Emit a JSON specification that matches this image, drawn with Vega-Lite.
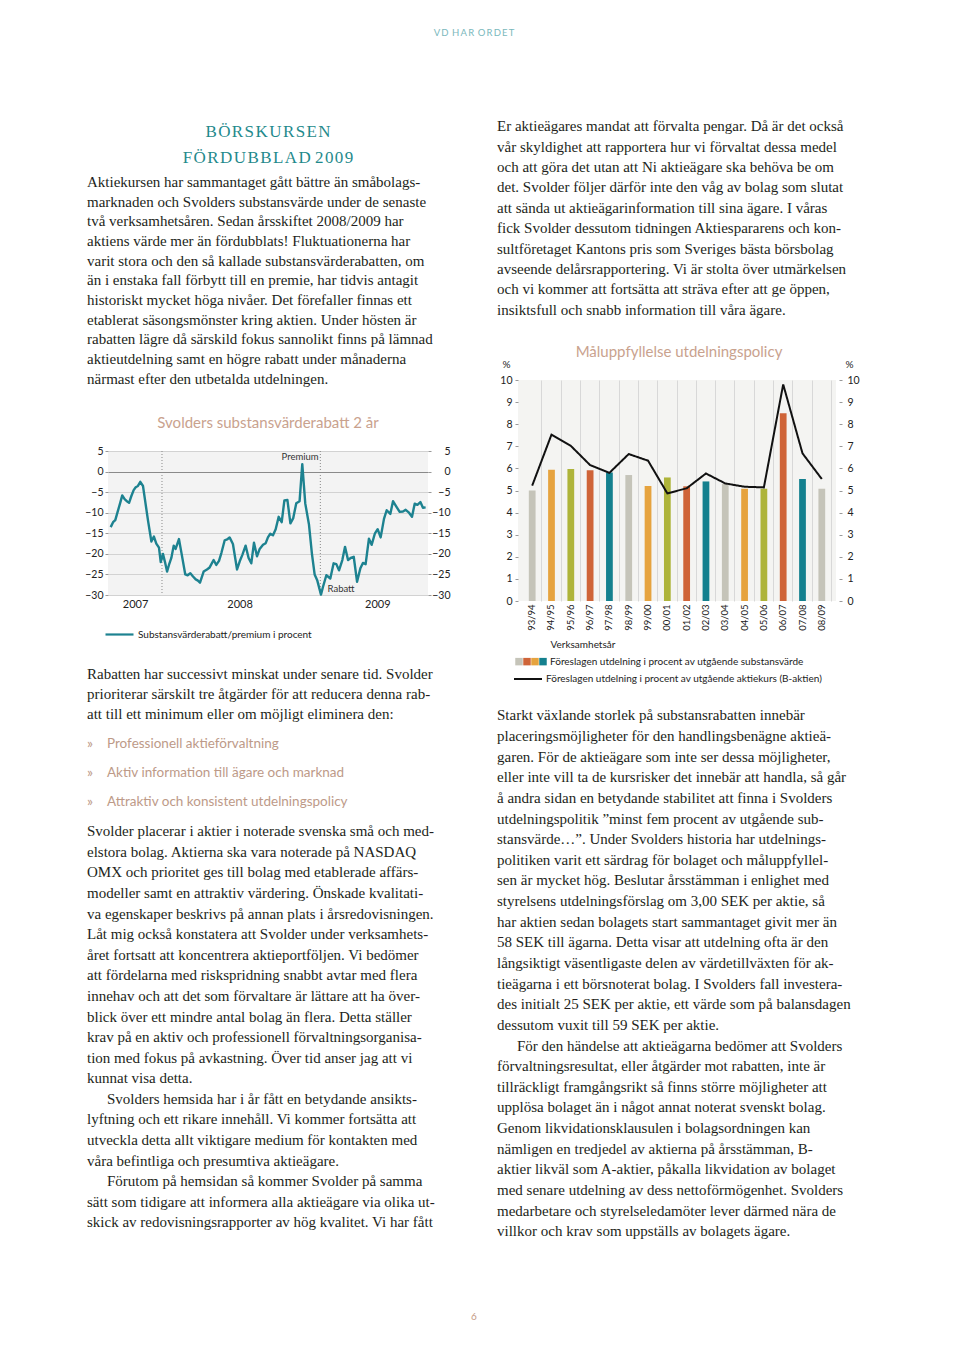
{
"$schema": "https://vega.github.io/schema/vega-lite/v6.json",
"background": "white",
"padding": {"left": 84, "top": 0, "right": 102, "bottom": 18},
"config": {"view": {"stroke": null}, "font": "Lato"},
"bounds": "flush",
"spacing": 0,
"vconcat": [
{"width": 774, "height": 66, "data": {"values": [{"t": "V\u2009D \u2009H\u2009A\u2009R \u2009O\u2009R\u2009D\u2009E\u2009T"}]},
 "mark": {"type": "text", "font": "Lato", "fontSize": 9.5, "color": "#7ab8bc", "align": "center", "baseline": "middle"},
 "encoding": {"text": {"field": "t", "type": "nominal"}}},
{"hconcat": [
 {"vconcat": [
  {"width": 1, "height": 52.5, "data": {"values": []}, "mark": {"type": "text"}, "encoding": {}},
  {"width": 362, "height": 52.6,
   "data": {"values": [{"i": 0, "t": "B\u200aÖ\u200aR\u200aS\u200aK\u200aU\u200aR\u200aS\u200aE\u200aN"}, {"i": 1, "t": "F\u200aÖ\u200aR\u200aD\u200aU\u200aB\u200aB\u200aL\u200aA\u200aD 2\u200a0\u200a0\u200a9"}]},
   "mark": {"type": "text", "align": "center", "baseline": "middle", "font": "Liberation Serif", "fontSize": 17, "color": "#1f8a8c"},
   "encoding": {"y": {"field": "i", "type": "ordinal", "scale": {"type": "point", "padding": 0.5}, "axis": null}, "text": {"field": "t", "type": "nominal"}}},
  {"width": 362, "height": 216.7,
   "data": {"values": [
    {"i": 0, "t": "Aktiekursen har sammantaget gått bättre än småbolags-"},
    {"i": 1, "t": "marknaden och Svolders substansvärde under de senaste"},
    {"i": 2, "t": "två verksamhetsåren. Sedan årsskiftet 2008/2009 har"},
    {"i": 3, "t": "aktiens värde mer än fördubblats! Fluktuationerna har"},
    {"i": 4, "t": "varit stora och den så kallade substansvärderabatten, om"},
    {"i": 5, "t": "än i enstaka fall förbytt till en premie, har tidvis antagit"},
    {"i": 6, "t": "historiskt mycket höga nivåer. Det förefaller finnas ett"},
    {"i": 7, "t": "etablerat säsongsmönster kring aktien. Under hösten är"},
    {"i": 8, "t": "rabatten lägre då särskild fokus sannolikt finns på lämnad"},
    {"i": 9, "t": "aktieutdelning samt en högre rabatt under månaderna"},
    {"i": 10, "t": "närmast efter den utbetalda utdelningen."}]},
   "mark": {"type": "text", "align": "left", "baseline": "middle", "font": "Liberation Serif", "fontSize": 15, "color": "#231f20"},
   "encoding": {"y": {"field": "i", "type": "ordinal", "scale": {"type": "point", "padding": 0.5}, "axis": null}, "x": {"value": 0}, "text": {"field": "t", "type": "nominal"}}},
  {"width": 1, "height": 5.5, "data": {"values": []}, "mark": {"type": "text"}, "encoding": {}},
  {"width": 362, "height": 56, "data": {"values": [{"t": "Svolders substansvärderabatt 2 år"}]},
   "mark": {"type": "text", "font": "Lato", "fontSize": 15, "color": "#c9a28e", "align": "center", "baseline": "middle"},
   "encoding": {"text": {"field": "t", "type": "nominal"}}},
  {"hconcat": [
   {"width": 1, "height": 144, "data": {"values": []}, "mark": {"type": "text"}, "encoding": {}},
   {"width": 320, "height": 144,
    "view": {"fill": "#f3f3f3", "stroke": null},
    "layer": [
     {"data": {"values": [{"t": 2008}, {"t": 2009}]},
      "mark": {"type": "rule", "strokeDash": [1, 2], "color": "#8a8a8a", "strokeWidth": 1},
      "encoding": {"x": {"field": "t", "type": "quantitative", "scale": {"domain": [2007.659, 2009.68], "nice": false, "zero": false}, "axis": {"values": [2007.83, 2008.49, 2009.36], "labelExpr": "'' + floor(datum.value)", "ticks": false, "domain": false, "grid": false, "labelPadding": 3, "labelFontSize": 11, "labelColor": "#222", "labelFlush": false, "labelOverlap": false, "title": null}}}},
     {"data": {"values": [
      {"t": 2007.676, "v": -13.5}, {"t": 2007.691, "v": -12.3}, {"t": 2007.705, "v": -11.8}, {"t": 2007.722, "v": -9.5},
      {"t": 2007.737, "v": -7.5}, {"t": 2007.749, "v": -5.8}, {"t": 2007.764, "v": -6.7}, {"t": 2007.781, "v": -7.3},
      {"t": 2007.792, "v": -7.6}, {"t": 2007.806, "v": -6.0}, {"t": 2007.821, "v": -4.5}, {"t": 2007.834, "v": -3.8},
      {"t": 2007.848, "v": -3.5}, {"t": 2007.863, "v": -2.5}, {"t": 2007.88, "v": -3.5}, {"t": 2007.895, "v": -7.5},
      {"t": 2007.912, "v": -12.0}, {"t": 2007.933, "v": -17.0}, {"t": 2007.949, "v": -15.8}, {"t": 2007.964, "v": -17.5},
      {"t": 2007.981, "v": -18.5}, {"t": 2007.992, "v": -22.0}, {"t": 2008.006, "v": -20.0}, {"t": 2008.019, "v": -22.0},
      {"t": 2008.032, "v": -24.3}, {"t": 2008.044, "v": -22.7}, {"t": 2008.059, "v": -21.0}, {"t": 2008.074, "v": -18.0},
      {"t": 2008.086, "v": -18.8}, {"t": 2008.107, "v": -16.4}, {"t": 2008.124, "v": -20.0}, {"t": 2008.147, "v": -25.0},
      {"t": 2008.162, "v": -25.2}, {"t": 2008.179, "v": -24.7}, {"t": 2008.196, "v": -25.5}, {"t": 2008.213, "v": -26.2},
      {"t": 2008.227, "v": -26.5}, {"t": 2008.24, "v": -27.0}, {"t": 2008.263, "v": -24.3}, {"t": 2008.284, "v": -23.8},
      {"t": 2008.301, "v": -23.3}, {"t": 2008.326, "v": -21.5}, {"t": 2008.343, "v": -22.7}, {"t": 2008.36, "v": -21.7},
      {"t": 2008.375, "v": -19.8}, {"t": 2008.396, "v": -16.7}, {"t": 2008.411, "v": -16.5}, {"t": 2008.427, "v": -16.0},
      {"t": 2008.448, "v": -17.6}, {"t": 2008.474, "v": -23.8}, {"t": 2008.491, "v": -21.8}, {"t": 2008.507, "v": -20.3},
      {"t": 2008.528, "v": -18.0}, {"t": 2008.547, "v": -21.0}, {"t": 2008.564, "v": -22.3}, {"t": 2008.581, "v": -17.3},
      {"t": 2008.6, "v": -20.6}, {"t": 2008.617, "v": -18.8}, {"t": 2008.638, "v": -17.8}, {"t": 2008.655, "v": -17.4},
      {"t": 2008.669, "v": -16.0}, {"t": 2008.684, "v": -15.1}, {"t": 2008.701, "v": -15.5}, {"t": 2008.718, "v": -14.0},
      {"t": 2008.737, "v": -11.0}, {"t": 2008.756, "v": -12.3}, {"t": 2008.773, "v": -7.0}, {"t": 2008.792, "v": -6.9},
      {"t": 2008.811, "v": -12.6}, {"t": 2008.829, "v": -11.3}, {"t": 2008.848, "v": -7.7}, {"t": 2008.869, "v": -7.2},
      {"t": 2008.886, "v": 1.8}, {"t": 2008.905, "v": -7.8}, {"t": 2008.928, "v": -12.8}, {"t": 2008.947, "v": -20.0},
      {"t": 2008.964, "v": -25.0}, {"t": 2008.981, "v": -26.5}, {"t": 2009.004, "v": -29.9}, {"t": 2009.017, "v": -28.0},
      {"t": 2009.038, "v": -25.2}, {"t": 2009.063, "v": -26.0}, {"t": 2009.084, "v": -22.3}, {"t": 2009.101, "v": -22.5},
      {"t": 2009.118, "v": -24.0}, {"t": 2009.139, "v": -21.5}, {"t": 2009.156, "v": -18.3}, {"t": 2009.175, "v": -21.5},
      {"t": 2009.192, "v": -21.0}, {"t": 2009.211, "v": -20.7}, {"t": 2009.232, "v": -26.8}, {"t": 2009.253, "v": -23.5},
      {"t": 2009.269, "v": -22.2}, {"t": 2009.286, "v": -22.5}, {"t": 2009.307, "v": -16.3}, {"t": 2009.324, "v": -17.8},
      {"t": 2009.345, "v": -15.0}, {"t": 2009.362, "v": -14.0}, {"t": 2009.381, "v": -16.0}, {"t": 2009.402, "v": -11.5},
      {"t": 2009.419, "v": -9.4}, {"t": 2009.442, "v": -10.3}, {"t": 2009.459, "v": -7.2}, {"t": 2009.48, "v": -8.5},
      {"t": 2009.501, "v": -9.8}, {"t": 2009.522, "v": -9.7}, {"t": 2009.539, "v": -9.3}, {"t": 2009.56, "v": -10.0},
      {"t": 2009.579, "v": -11.0}, {"t": 2009.596, "v": -7.8}, {"t": 2009.613, "v": -8.1}, {"t": 2009.632, "v": -7.4},
      {"t": 2009.648, "v": -8.8}, {"t": 2009.665, "v": -8.7}]},
      "mark": {"type": "line", "strokeWidth": 2.4, "strokeJoin": "round"},
      "encoding": {
       "x": {"field": "t", "type": "quantitative", "scale": {"domain": [2007.659, 2009.68], "nice": false, "zero": false}, "axis": {"values": [2007.83, 2008.49, 2009.36], "labelExpr": "'' + floor(datum.value)", "ticks": false, "domain": false, "grid": false, "labelPadding": 3, "labelFontSize": 11, "labelColor": "#222", "labelFlush": false, "labelOverlap": false, "title": null}},
       "y": {"field": "v", "type": "quantitative", "scale": {"domain": [-30, 5], "nice": false, "zero": false},
             "axis": {"orient": "left", "values": [-30, -25, -20, -15, -10, -5, 0, 5], "grid": true, "gridColor": {"condition": {"test": "datum.value === 0", "value": "#8a8a8a"}, "value": "#d2d2d2"}, "domain": false, "tickSize": 3, "tickColor": "#999", "labelPadding": 2, "labelFontSize": 10.5, "labelColor": "#222", "labelFlush": false, "labelOverlap": false, "title": null}},
       "stroke": {"datum": "Substansvärderabatt/premium i procent", "type": "nominal", "scale": {"range": ["#1d8290"]},
                  "legend": {"orient": "none", "legendX": 17, "legendY": 619, "title": null, "padding": 0, "symbolType": "stroke", "symbolSize": 784, "symbolStrokeWidth": 2.2, "labelOffset": 3, "labelLimit": 400, "labelFontSize": 10, "labelFont": "Lato", "labelColor": "#222"}}
      }},
     {"data": {"values": [{"t": 2008.872, "v": 3.6, "label": "Premium"}, {"t": 2009.131, "v": -28.5, "label": "Rabatt"}]},
      "mark": {"type": "text", "fontSize": 9.5, "color": "#333", "font": "Lato", "align": "center", "baseline": "middle"},
      "encoding": {
       "x": {"field": "t", "type": "quantitative", "scale": {"domain": [2007.659, 2009.68], "nice": false, "zero": false}, "axis": {"values": [2007.83, 2008.49, 2009.36], "labelExpr": "'' + floor(datum.value)", "ticks": false, "domain": false, "grid": false, "labelPadding": 3, "labelFontSize": 11, "labelColor": "#222", "labelFlush": false, "labelOverlap": false, "title": null}},
       "y": {"field": "v", "type": "quantitative", "scale": {"domain": [-30, 5], "nice": false, "zero": false},
             "axis": {"orient": "right", "values": [-30, -25, -20, -15, -10, -5, 0, 5], "grid": false, "domain": false, "tickSize": 3, "tickColor": "#999", "labelAlign": "right", "labelPadding": 19, "labelFontSize": 10.5, "labelColor": "#222", "labelFlush": false, "labelOverlap": false, "title": null}},
       "text": {"field": "label", "type": "nominal"}
      }}
    ],
    "resolve": {"axis": {"y": "independent"}}
   }
  ], "spacing": 20, "bounds": "flush"},
  {"width": 1, "height": 212.7, "data": {"values": []}, "mark": {"type": "text"}, "encoding": {}},
  {"width": 362, "height": 60,
   "data": {"values": [
    {"i": 0, "t": "Rabatten har successivt minskat under senare tid. Svolder"},
    {"i": 1, "t": "prioriterar särskilt tre åtgärder för att reducera denna rab-"},
    {"i": 2, "t": "att till ett minimum eller om möjligt eliminera den:"}]},
   "mark": {"type": "text", "align": "left", "baseline": "middle", "font": "Liberation Serif", "fontSize": 15, "color": "#231f20"},
   "encoding": {"y": {"field": "i", "type": "ordinal", "scale": {"type": "point", "padding": 0.5}, "axis": null}, "x": {"value": 0}, "text": {"field": "t", "type": "nominal"}}},
  {"width": 1, "height": 4.5, "data": {"values": []}, "mark": {"type": "text"}, "encoding": {}},
  {"width": 362, "height": 87,
   "data": {"values": [
    {"i": 0, "t": "Professionell aktieförvaltning"},
    {"i": 1, "t": "Aktiv information till ägare och marknad"},
    {"i": 2, "t": "Attraktiv och konsistent utdelningspolicy"}]},
   "layer": [
    {"mark": {"type": "text", "align": "left", "baseline": "middle", "font": "Lato", "fontSize": 14, "color": "#bd9a88", "text": "»"},
     "encoding": {"y": {"field": "i", "type": "ordinal", "scale": {"type": "point", "padding": 0.5}, "axis": null}, "x": {"value": 0}}},
    {"mark": {"type": "text", "align": "left", "baseline": "middle", "font": "Lato", "fontSize": 13.5, "color": "#bd9a88"},
     "encoding": {"y": {"field": "i", "type": "ordinal", "scale": {"type": "point", "padding": 0.5}, "axis": null}, "x": {"value": 20}, "text": {"field": "t", "type": "nominal"}}}
   ]},
  {"width": 1, "height": 4.2, "data": {"values": []}, "mark": {"type": "text"}, "encoding": {}},
  {"width": 362, "height": 411.6,
   "data": {"values": [
    {"i": 0, "t": "Svolder placerar i aktier i noterade svenska små och med-"},
    {"i": 1, "t": "elstora bolag. Aktierna ska vara noterade på NASDAQ"},
    {"i": 2, "t": "OMX och prioritet ges till bolag med etablerade affärs-"},
    {"i": 3, "t": "modeller samt en attraktiv värdering. Önskade kvalitati-"},
    {"i": 4, "t": "va egenskaper beskrivs på annan plats i årsredovisningen."},
    {"i": 5, "t": "Låt mig också konstatera att Svolder under verksamhets-"},
    {"i": 6, "t": "året fortsatt att koncentrera aktieportföljen. Vi bedömer"},
    {"i": 7, "t": "att fördelarna med riskspridning snabbt avtar med flera"},
    {"i": 8, "t": "innehav och att det som förvaltare är lättare att ha över-"},
    {"i": 9, "t": "blick över ett mindre antal bolag än flera. Detta ställer"},
    {"i": 10, "t": "krav på en aktiv och professionell förvaltningsorganisa-"},
    {"i": 11, "t": "tion med fokus på avkastning. Över tid anser jag att vi"},
    {"i": 12, "t": "kunnat visa detta."},
    {"i": 13, "t": "Svolders hemsida har i år fått en betydande ansikts-", "indent": true},
    {"i": 14, "t": "lyftning och ett rikare innehåll. Vi kommer fortsätta att"},
    {"i": 15, "t": "utveckla detta allt viktigare medium för kontakten med"},
    {"i": 16, "t": "våra befintliga och presumtiva aktieägare."},
    {"i": 17, "t": "Förutom på hemsidan så kommer Svolder på samma", "indent": true},
    {"i": 18, "t": "sätt som tidigare att informera alla aktieägare via olika ut-"},
    {"i": 19, "t": "skick av redovisningsrapporter av hög kvalitet. Vi har fått"}]},
   "layer": [
    {"transform": [{"filter": "!datum.indent"}],
     "mark": {"type": "text", "align": "left", "baseline": "middle", "font": "Liberation Serif", "fontSize": 15, "color": "#231f20"},
     "encoding": {"y": {"field": "i", "type": "ordinal", "scale": {"type": "point", "padding": 0.5, "domain": [0, 1, 2, 3, 4, 5, 6, 7, 8, 9, 10, 11, 12, 13, 14, 15, 16, 17, 18, 19]}, "axis": null}, "x": {"value": 0}, "text": {"field": "t", "type": "nominal"}}},
    {"transform": [{"filter": "datum.indent"}],
     "mark": {"type": "text", "align": "left", "baseline": "middle", "font": "Liberation Serif", "fontSize": 15, "color": "#231f20"},
     "encoding": {"y": {"field": "i", "type": "ordinal", "scale": {"type": "point", "padding": 0.5, "domain": [0, 1, 2, 3, 4, 5, 6, 7, 8, 9, 10, 11, 12, 13, 14, 15, 16, 17, 18, 19]}, "axis": null}, "x": {"value": 20}, "text": {"field": "t", "type": "nominal"}}}
   ]}
 ], "spacing": 0, "bounds": "flush"},
 {"vconcat": [
  {"width": 1, "height": 49.8, "data": {"values": []}, "mark": {"type": "text"}, "encoding": {}},
  {"width": 364, "height": 204,
   "data": {"values": [
    {"i": 0, "t": "Er aktieägares mandat att förvalta pengar. Då är det också"},
    {"i": 1, "t": "vår skyldighet att rapportera hur vi förvaltat dessa medel"},
    {"i": 2, "t": "och att göra det utan att Ni aktieägare ska behöva be om"},
    {"i": 3, "t": "det. Svolder följer därför inte den våg av bolag som slutat"},
    {"i": 4, "t": "att sända ut aktieägarinformation till sina ägare. I våras"},
    {"i": 5, "t": "fick Svolder dessutom tidningen Aktiespararens och kon-"},
    {"i": 6, "t": "sultföretaget Kantons pris som Sveriges bästa börsbolag"},
    {"i": 7, "t": "avseende delårsrapportering. Vi är stolta över utmärkelsen"},
    {"i": 8, "t": "och vi kommer att fortsätta att sträva efter att ge öppen,"},
    {"i": 9, "t": "insiktsfull och snabb information till våra ägare."}]},
   "mark": {"type": "text", "align": "left", "baseline": "middle", "font": "Liberation Serif", "fontSize": 15, "color": "#231f20"},
   "encoding": {"y": {"field": "i", "type": "ordinal", "scale": {"type": "point", "padding": 0.5}, "axis": null}, "x": {"value": 0}, "text": {"field": "t", "type": "nominal"}}},
  {"width": 1, "height": 3.2, "data": {"values": []}, "mark": {"type": "text"}, "encoding": {}},
  {"width": 364, "height": 56, "data": {"values": [{"t": "Måluppfyllelse utdelningspolicy"}]},
   "mark": {"type": "text", "font": "Lato", "fontSize": 15, "color": "#c9a28e", "align": "center", "baseline": "middle"},
   "encoding": {"text": {"field": "t", "type": "nominal"}}},
  {"hconcat": [
   {"width": 1, "height": 221, "data": {"values": []}, "mark": {"type": "text"}, "encoding": {}},
   {"width": 318, "height": 221,
    "view": {"fill": "#f4f4f2", "stroke": null},
    "data": {"values": [
     {"yr": "93/94", "sub": 5.0, "kurs": 5.22},
     {"yr": "94/95", "sub": 5.94, "kurs": 7.53},
     {"yr": "95/96", "sub": 5.97, "kurs": 7.02},
     {"yr": "96/97", "sub": 5.92, "kurs": 6.15},
     {"yr": "97/98", "sub": 5.82, "kurs": 5.8},
     {"yr": "98/99", "sub": 5.7, "kurs": 6.65},
     {"yr": "99/00", "sub": 5.2, "kurs": 6.35},
     {"yr": "00/01", "sub": 5.59, "kurs": 4.87},
     {"yr": "01/02", "sub": 5.19, "kurs": 5.1},
     {"yr": "02/03", "sub": 5.41, "kurs": 5.77},
     {"yr": "03/04", "sub": 5.29, "kurs": 5.32},
     {"yr": "04/05", "sub": 5.08, "kurs": 5.17},
     {"yr": "05/06", "sub": 5.08, "kurs": 5.14},
     {"yr": "06/07", "sub": 8.5, "kurs": 9.8},
     {"yr": "07/08", "sub": 5.52, "kurs": 6.68},
     {"yr": "08/09", "sub": 5.08, "kurs": 5.52}]},
    "layer": [
     {"mark": {"type": "bar"},
      "encoding": {
       "x": {"field": "yr", "type": "nominal", "sort": null, "scale": {"paddingInner": 0.65, "paddingOuter": 0.56},
             "axis": {"orient": "bottom", "labelAngle": 270, "labelAlign": "right", "labelBaseline": "middle", "labelPadding": 3, "ticks": false, "domain": false, "grid": false, "labelFontSize": 9.5, "labelColor": "#222",
                      "title": "Verksamhetsår", "titleX": 32, "titleY": 43, "titleAlign": "left", "titleBaseline": "middle", "titleFontSize": 10, "titleFontWeight": "normal", "titleColor": "#222"}},
       "y": {"field": "sub", "type": "quantitative", "scale": {"domain": [0, 10], "nice": false},
             "axis": {"orient": "left", "values": [0, 1, 2, 3, 4, 5, 6, 7, 8, 9, 10], "grid": false, "domain": false, "tickSize": 3, "tickColor": "#999", "labelPadding": 3, "labelFontSize": 10.5, "labelColor": "#222", "labelFlush": false,
                      "title": "%", "titleAngle": 0, "titleX": -12, "titleY": -16, "titleAlign": "center", "titleBaseline": "middle", "titleFontSize": 10, "titleFontWeight": "normal", "titleColor": "#222"}},
       "color": {"field": "yr", "type": "nominal", "sort": null,
                 "scale": {"domain": ["93/94", "94/95", "95/96", "96/97", "97/98", "98/99", "99/00", "00/01", "01/02", "02/03", "03/04", "04/05", "05/06", "06/07", "07/08", "08/09"],
                           "range": ["#c5c4b9", "#e6a33e", "#aeb43a", "#cf6438", "#14808e", "#c5c4b9", "#e6a33e", "#aeb43a", "#cf6438", "#14808e", "#c5c4b9", "#e6a33e", "#aeb43a", "#cf6438", "#14808e", "#c5c4b9"]},
                 "legend": {"orient": "none", "legendX": 428, "legendY": 657.5, "values": ["93/94", "96/97", "94/95", "97/98"], "direction": "horizontal", "columns": 4, "symbolType": "square", "symbolSize": 56, "symbolStrokeWidth": 0, "labelExpr": "''", "labelFontSize": 1, "labelOffset": 0, "columnPadding": 0, "padding": 0,
                            "title": "Föreslagen utdelning i procent av utgående substansvärde", "titleLimit": 500, "titleOrient": "right", "titleFontSize": 10, "titleFontWeight": "normal", "titleFont": "Lato", "titleColor": "#222", "titlePadding": 3, "titleBaseline": "middle", "titleAnchor": "middle"}}
      }},
     {"mark": {"type": "line", "strokeWidth": 2, "strokeJoin": "miter", "color": "#111111"},
      "encoding": {
       "x": {"field": "yr", "type": "nominal", "sort": null,
             "axis": {"orient": "top", "labels": false, "ticks": false, "domain": false, "grid": true, "gridColor": "#d8d8d8", "bandPosition": 1.93, "title": null}},
       "y": {"field": "kurs", "type": "quantitative", "scale": {"domain": [0, 10], "nice": false},
             "axis": {"orient": "right", "offset": 3, "values": [0, 1, 2, 3, 4, 5, 6, 7, 8, 9, 10], "grid": false, "domain": false, "tickSize": 3, "tickColor": "#999", "labelPadding": 5, "labelAlign": "left", "labelFontSize": 10.5, "labelColor": "#222", "labelFlush": false,
                      "title": "%", "titleAngle": 0, "titleX": 10, "titleY": -16, "titleAlign": "center", "titleBaseline": "middle", "titleFontSize": 10, "titleFontWeight": "normal", "titleColor": "#222"}},
       "strokeDash": {"datum": "Föreslagen utdelning i procent av utgående aktiekurs (B-aktien)", "type": "nominal", "scale": {"range": [[1, 0]]},
                  "legend": {"orient": "none", "legendX": 426, "legendY": 664, "title": null, "padding": 0, "symbolType": "stroke", "symbolSize": 784, "symbolStrokeWidth": 2, "symbolStrokeColor": "#111111", "labelOffset": 3, "labelLimit": 500, "labelFontSize": 10, "labelFont": "Lato", "labelColor": "#222"}}
      }}
    ],
    "resolve": {"axis": {"x": "independent", "y": "independent"}}
   }
  ], "spacing": 20, "bounds": "flush"},
  {"width": 1, "height": 324.7, "data": {"values": []}, "mark": {"type": "text"}, "encoding": {}},
  {"width": 364, "height": 536.6,
   "data": {"values": [
    {"i": 0, "t": "Starkt växlande storlek på substansrabatten innebär"},
    {"i": 1, "t": "placeringsmöjligheter för den handlingsbenägne aktieä-"},
    {"i": 2, "t": "garen. För de aktieägare som inte ser dessa möjligheter,"},
    {"i": 3, "t": "eller inte vill ta de kursrisker det innebär att handla, så går"},
    {"i": 4, "t": "å andra sidan en betydande stabilitet att finna i Svolders"},
    {"i": 5, "t": "utdelningspolitik ”minst fem procent av utgående sub-"},
    {"i": 6, "t": "stansvärde…”.  Under Svolders historia har utdelnings-"},
    {"i": 7, "t": "politiken varit ett särdrag för bolaget och måluppfyllel-"},
    {"i": 8, "t": "sen är mycket hög. Beslutar årsstämman i enlighet med"},
    {"i": 9, "t": "styrelsens utdelningsförslag om 3,00 SEK per aktie, så"},
    {"i": 10, "t": "har aktien sedan bolagets start sammantaget givit mer än"},
    {"i": 11, "t": "58 SEK till ägarna. Detta visar att utdelning ofta är den"},
    {"i": 12, "t": "långsiktigt väsentligaste delen av värdetillväxten för ak-"},
    {"i": 13, "t": "tieägarna i ett börsnoterat bolag. I Svolders fall investera-"},
    {"i": 14, "t": "des initialt 25 SEK per aktie, ett värde som på balansdagen"},
    {"i": 15, "t": "dessutom vuxit till 59 SEK per aktie."},
    {"i": 16, "t": "För den händelse att aktieägarna bedömer att Svolders", "indent": true},
    {"i": 17, "t": "förvaltningsresultat, eller åtgärder mot rabatten, inte är"},
    {"i": 18, "t": "tillräckligt framgångsrikt så finns större möjligheter att"},
    {"i": 19, "t": "upplösa bolaget än i något annat noterat svenskt bolag."},
    {"i": 20, "t": "Genom likvidationsklausulen i bolagsordningen kan"},
    {"i": 21, "t": "nämligen en tredjedel av aktierna på årsstämman, B-"},
    {"i": 22, "t": "aktier likväl som A-aktier, påkalla likvidation av bolaget"},
    {"i": 23, "t": "med senare utdelning av dess nettoförmögenhet. Svolders"},
    {"i": 24, "t": "medarbetare och styrelseledamöter lever därmed nära de"},
    {"i": 25, "t": "villkor och krav som uppställs av bolagets ägare."}]},
   "layer": [
    {"transform": [{"filter": "!datum.indent"}],
     "mark": {"type": "text", "align": "left", "baseline": "middle", "font": "Liberation Serif", "fontSize": 15, "color": "#231f20"},
     "encoding": {"y": {"field": "i", "type": "ordinal", "scale": {"type": "point", "padding": 0.5, "domain": [0, 1, 2, 3, 4, 5, 6, 7, 8, 9, 10, 11, 12, 13, 14, 15, 16, 17, 18, 19, 20, 21, 22, 23, 24, 25]}, "axis": null}, "x": {"value": 0}, "text": {"field": "t", "type": "nominal"}}},
    {"transform": [{"filter": "datum.indent"}],
     "mark": {"type": "text", "align": "left", "baseline": "middle", "font": "Liberation Serif", "fontSize": 15, "color": "#231f20"},
     "encoding": {"y": {"field": "i", "type": "ordinal", "scale": {"type": "point", "padding": 0.5, "domain": [0, 1, 2, 3, 4, 5, 6, 7, 8, 9, 10, 11, 12, 13, 14, 15, 16, 17, 18, 19, 20, 21, 22, 23, 24, 25]}, "axis": null}, "x": {"value": 20}, "text": {"field": "t", "type": "nominal"}}}
   ]}
 ], "spacing": 0, "bounds": "flush"}
], "spacing": 410, "bounds": "flush"},
{"width": 1, "height": 1241, "data": {"values": []}, "mark": {"type": "text"}, "encoding": {}},
{"width": 774, "height": 20, "data": {"values": [{"t": "6"}]},
 "mark": {"type": "text", "font": "Lato", "fontSize": 10, "color": "#c49a86", "align": "center", "baseline": "middle"},
 "encoding": {"text": {"field": "t", "type": "nominal"}}}
]
}
